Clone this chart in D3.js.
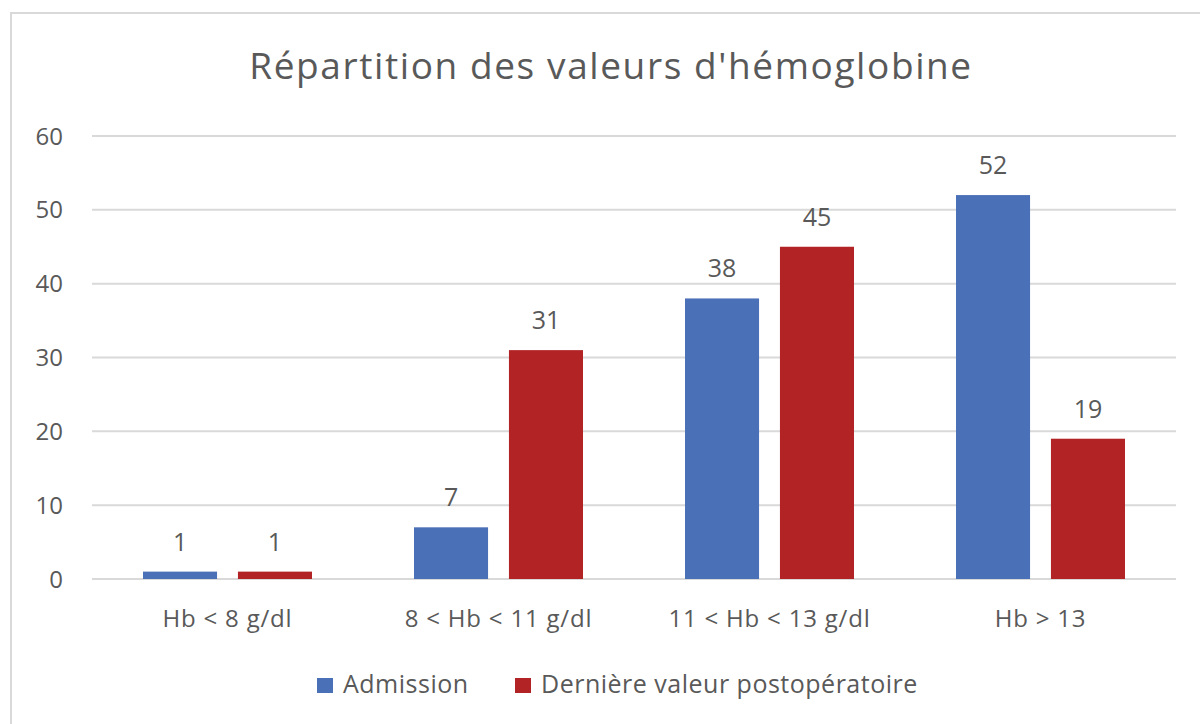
<!DOCTYPE html>
<html>
<head>
<meta charset="utf-8">
<script src="https://cdn.jsdelivr.net/npm/d3@7"></script>
<style>
  body { margin: 0; background: #fff; }
  svg text { font-family: "Open Sans", "Noto Sans", sans-serif; fill: #595959; }
</style>
</head>
<body>
<svg width="1200" height="724"></svg>
<script>
const W = 1200, H = 724;

const categories = ["Hb < 8 g/dl", "8 < Hb < 11 g/dl", "11 < Hb < 13 g/dl", "Hb > 13"];
const seriesNames = ["Admission", "Dernière valeur postopératoire"];
const admission = [1, 7, 38, 52];
const postop = [1, 31, 45, 19];
const yTicks = [0, 10, 20, 30, 40, 50, 60];
const colors = ["#4A71B7", "#B22326"];

const svg = d3.select("svg");

// chart frame (runs off the right/bottom edge like the screenshot)
svg.append("rect")
  .attr("x", 11).attr("y", 13)
  .attr("width", W).attr("height", H)
  .attr("fill", "none")
  .attr("stroke", "#d9d9d9")
  .attr("stroke-width", 2);

svg.append("text")
  .text("Répartition des valeurs d'hémoglobine")
  .attr("x", 611).attr("y", 79)
  .attr("text-anchor", "middle")
  .style("font-size", "37px")
  .style("letter-spacing", "1.6px");

const x0 = d3.scaleBand()
  .domain(categories)
  .range([92, 1176]);

const x1 = d3.scaleBand()
  .domain(seriesNames)
  .range([51, x0.bandwidth() - 51])
  .paddingInner(0.22);

const y = d3.scaleLinear()
  .domain([0, 60])
  .range([579, 136]);

// grid lines
svg.append("g")
  .selectAll("line")
  .data(yTicks)
  .join("line")
  .attr("x1", 92).attr("x2", 1176)
  .attr("y1", d => y(d)).attr("y2", d => y(d))
  .attr("stroke", "#d9d9d9")
  .attr("stroke-width", 2);

// y tick labels
svg.append("g")
  .selectAll("text")
  .data(yTicks)
  .join("text")
  .text(d => d)
  .attr("x", 63)
  .attr("y", d => y(d) + 8.5)
  .attr("text-anchor", "end")
  .style("font-size", "24px");

// category labels
svg.append("g")
  .selectAll("text")
  .data(categories)
  .join("text")
  .text(d => d)
  .attr("x", d => x0(d) + x0.bandwidth() / 2)
  .attr("y", 627)
  .attr("text-anchor", "middle")
  .style("font-size", "24px")
  .style("letter-spacing", "0.8px");

const rows = categories.map((c, i) => ({
  cat: c,
  vals: [admission[i], postop[i]]
}));

const groups = svg.append("g")
  .selectAll("g")
  .data(rows)
  .join("g")
  .attr("transform", d => `translate(${x0(d.cat)},0)`);

groups.selectAll("rect")
  .data(d => d.vals.map((v, j) => ({ name: seriesNames[j], v: v, j: j })))
  .join("rect")
  .attr("x", d => x1(d.name))
  .attr("width", x1.bandwidth())
  .attr("y", d => y(d.v))
  .attr("height", d => y(0) - y(d.v))
  .attr("fill", d => colors[d.j]);

groups.selectAll("text")
  .data(d => d.vals.map((v, j) => ({ name: seriesNames[j], v: v })))
  .join("text")
  .text(d => d.v)
  .attr("x", d => x1(d.name) + x1.bandwidth() / 2)
  .attr("y", d => y(d.v) - 21)
  .attr("text-anchor", "middle")
  .style("font-size", "25px");

// legend
const legendX = [317, 515];
const legend = svg.append("g")
  .selectAll("g")
  .data(seriesNames)
  .join("g")
  .attr("transform", (d, i) => `translate(${legendX[i]},678)`);

legend.append("rect")
  .attr("width", 16).attr("height", 15)
  .attr("fill", (d, i) => colors[i]);

legend.append("text")
  .text(d => d)
  .attr("x", 26)
  .attr("y", 15)
  .style("font-size", "25px")
  .style("letter-spacing", "0.5px");
</script>
</body>
</html>
